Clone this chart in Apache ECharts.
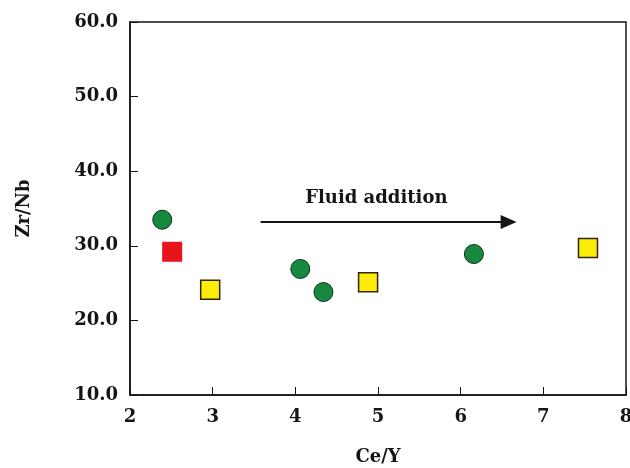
<!DOCTYPE html>
<html>
<head>
<meta charset="utf-8">
<script src="https://cdn.jsdelivr.net/npm/echarts@6/dist/echarts.min.js"></script>
<style>
  html, body { margin: 0; padding: 0; background: #fff; }
  #chart { width: 630px; height: 468px; }
</style>
</head>
<body>
<div id="chart"></div>
<script>
// Sample groups: [Ce/Y, Zr/Nb]
const greenCircles = [[2.39, 33.5], [4.06, 26.9], [4.34, 23.8], [6.16, 28.9]];
const redSquares = [[2.51, 29.2]];
const yellowSquares = [[2.97, 24.1], [4.88, 25.1], [7.54, 29.7]];

// Trend arrow and its caption
const arrowStart = [3.58, 33.2];
const arrowEnd = [6.58, 33.2];
const arrowText = 'Fluid addition';
const arrowTextAt = [4.98, 36.4];

const xTicks = [2, 3, 4, 5, 6, 7, 8];
const yTicks = [10, 20, 30, 40, 50, 60];

const serif = '"DejaVu Serif", "Liberation Serif", serif';
const ink = '#151515';

const chart = echarts.init(document.getElementById('chart'), null, { renderer: 'canvas' });

chart.setOption({
  backgroundColor: '#fff',
  animation: false,
  grid: { left: 130, right: 4, top: 22, bottom: 73, containLabel: false, outerBoundsMode: 'none' },
  xAxis: {
    type: 'value',
    min: xTicks[0], max: xTicks[xTicks.length - 1], interval: 1,
    name: 'Ce/Y', nameLocation: 'middle', nameGap: 53,
    nameTextStyle: { fontFamily: serif, fontWeight: 'bold', fontSize: 18, color: ink },
    axisLine: { show: true, onZero: false, lineStyle: { color: ink, width: 1.5 } },
    axisTick: { show: true, inside: true, length: 8, lineStyle: { color: ink, width: 1 } },
    axisLabel: { fontFamily: serif, fontWeight: 'bold', fontSize: 18, color: ink, margin: 13 },
    splitLine: { show: false }
  },
  yAxis: {
    type: 'value',
    min: yTicks[0], max: yTicks[yTicks.length - 1], interval: 10,
    name: 'Zr/Nb', nameLocation: 'middle', nameGap: 97,
    nameTextStyle: { fontFamily: serif, fontWeight: 'bold', fontSize: 18, color: ink },
    axisLine: { show: true, onZero: false, lineStyle: { color: ink, width: 1.5 } },
    axisTick: { show: true, inside: true, length: 8, lineStyle: { color: ink, width: 1 } },
    axisLabel: {
      fontFamily: serif, fontWeight: 'bold', fontSize: 18, color: ink, margin: 12,
      formatter: v => v.toFixed(1)
    },
    splitLine: { show: false }
  },
  series: [
    {
      // frame around the plot area
      type: 'line', data: [], silent: true,
      markArea: {
        silent: true,
        itemStyle: { color: 'transparent', borderColor: ink, borderWidth: 1.5 },
        data: [[{ coord: [xTicks[0], yTicks[0]] }, { coord: [xTicks[xTicks.length - 1], yTicks[yTicks.length - 1]] }]]
      }
    },
    {
      name: 'green', type: 'scatter', data: greenCircles, symbol: 'circle', symbolSize: 19,
      itemStyle: { color: '#17893f', borderColor: '#0b3318', borderWidth: 1, opacity: 1 }
    },
    {
      name: 'red', type: 'scatter', data: redSquares, symbol: 'rect', symbolSize: 20,
      itemStyle: { color: '#e8141c', borderColor: '#e8141c', borderWidth: 0, opacity: 1 }
    },
    {
      name: 'yellow', type: 'scatter', data: yellowSquares, symbol: 'rect', symbolSize: 19,
      itemStyle: { color: '#fdec0a', borderColor: '#2e2600', borderWidth: 1.5, opacity: 1 }
    },
    {
      name: 'arrow', type: 'line', data: [], silent: true,
      markLine: {
        silent: true, symbol: ['none', 'triangle'], symbolSize: [14, 16],
        lineStyle: { color: ink, width: 2, type: 'solid', opacity: 1 },
        label: { show: false },
        data: [[{ coord: arrowStart }, { coord: arrowEnd }]]
      }
    },
    {
      name: 'caption', type: 'scatter', data: [arrowTextAt], symbolSize: 1, silent: true,
      itemStyle: { color: 'rgba(0,0,0,0)', opacity: 1 },
      label: {
        show: true, position: 'inside', formatter: arrowText, opacity: 1,
        fontFamily: serif, fontWeight: 'bold', fontSize: 18, color: ink
      }
    }
  ]
});
</script>
</body>
</html>
